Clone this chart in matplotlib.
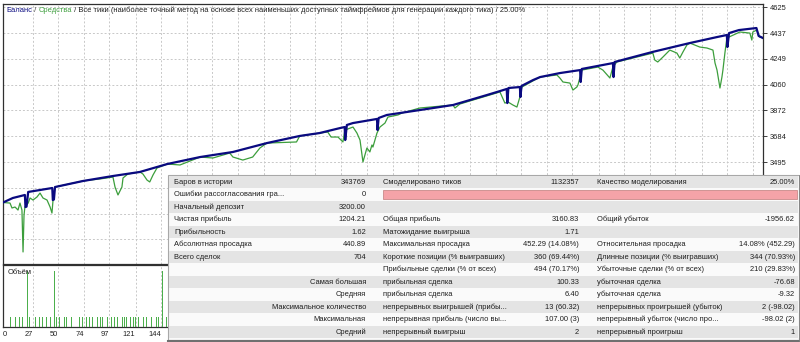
import matplotlib
matplotlib.use("Agg")
import matplotlib.pyplot as plt
from matplotlib.patches import Rectangle
from matplotlib.offsetbox import TextArea, HPacker, AnchoredOffsetbox

plt.rcParams['font.family'] = ['Liberation Sans', 'DejaVu Sans']

# Balance curve (trade number, deposit)
balance_x = [0, 9, 20, 20.5, 21.5, 23, 45, 45.5, 46.5, 47.5, 73, 100, 125, 140.5, 150,
             180, 210, 241, 271, 289, 308, 312, 312.5, 314, 319.5, 341.5, 342, 343, 350.5,
             380.5, 411, 442, 454, 460, 460.5, 461.5, 472, 472.5, 473.5, 484, 490.5, 508.5,
             527, 527.5, 528.5, 557, 557.5, 558.5, 593, 627, 652, 661, 661.5, 663, 672,
             688, 690, 694]
balance_y = [3200, 3233, 3255, 3167, 3170, 3277, 3306, 3218, 3222, 3313, 3357, 3393, 3423,
             3459, 3481, 3532, 3569, 3634, 3686, 3707, 3744, 3751, 3656, 3766, 3780, 3810,
             3729, 3817, 3839, 3875, 3912, 3985, 4014, 4029, 3926, 4036, 4043, 3970, 4051,
             4094, 4116, 4145, 4167, 4080, 4175, 4218, 4116, 4226, 4299, 4364, 4408, 4423,
             4335, 4437, 4459, 4474, 4416, 4401]

# Equity curve
equity_x = [0, 6.4, 8.2, 11, 13.7, 15.5, 17.3, 18.3, 19.2, 20, 23, 24.7, 27.4, 31, 33.8,
            36.5, 40.2, 43, 44.7, 45.7, 47.5, 73, 79.4, 88.6, 100.4, 102.3, 105, 108.6,
            109.6, 114, 125, 127.8, 131.5, 134, 137, 140.6, 150, 161.6, 180, 191.7, 207,
            210, 219, 228, 234.6, 241, 268, 271, 289.4, 296.5, 299.6, 305.9, 310.4, 312.2,
            319.6, 323.2, 326, 328.7, 332.3, 335, 336.9, 337.8, 341.5, 344.2, 348.8, 351.5,
            360.6, 364.3, 380.7, 410.9, 412.7, 417.2, 429.1, 453.8, 458.3, 461.1, 465.6,
            469.3, 472, 473.8, 490.3, 505.8, 508.5, 511.3, 517.7, 520.4, 524, 525, 528.6,
            543.2, 547.8, 554.2, 556.9, 560.5, 593.4, 595.2, 597.9, 602.6, 608.9, 615.4,
            618, 620.9, 624.5, 627.2, 636.3, 642.8, 648.3, 650.2, 652, 654.7, 656.5, 657.4,
            659.2, 661, 672.9, 682, 683.8, 684.7, 688.3, 691, 694]
equity_y = [3200, 3196, 3160, 3167, 3145, 3196, 3145, 2839, 3109, 3167, 3196, 3233, 3218,
            3240, 3269, 3233, 3218, 3167, 3123, 3218, 3313, 3357, 3364, 3372, 3386, 3313,
            3255, 3313, 3379, 3408, 3423, 3408, 3364, 3350, 3401, 3452, 3481, 3474, 3532,
            3525, 3561, 3532, 3510, 3532, 3598, 3634, 3642, 3686, 3707, 3715, 3678, 3678,
            3642, 3729, 3751, 3707, 3656, 3496, 3598, 3569, 3620, 3605, 3707, 3751, 3780,
            3824, 3839, 3853, 3890, 3912, 3890, 3919, 3948, 4007, 3926, 3934, 3912, 3897,
            3970, 4043, 4116, 4131, 4109, 4080, 4072, 4021, 4043, 4058, 4167, 4189, 4167,
            4109, 4189, 4226, 4291, 4240, 4226, 4262, 4313, 4291, 4255, 4299, 4350, 4364,
            4335, 4328, 4313, 4218, 4167, 4036, 4116, 4167, 4291, 4401, 4445, 4437, 4386,
            4445, 4459, 4408, 4401]

# Volume (lots) per trade, visible part
vol_x = [7, 11, 15, 18, 22, 24, 30, 33, 36, 40, 43, 47, 49, 52, 56, 58, 63, 70, 73, 76, 79,
         82, 86, 89, 91, 95, 99, 102, 105, 109, 111, 113, 116, 119, 121, 124, 128, 131, 136,
         140, 142, 146, 149]
vol_lots = [0.1, 0.1, 0.1, 0.1, 0.55, 0.1, 0.1, 0.1, 0.1, 0.1, 0.1, 0.55, 0.1, 0.1, 0.1, 0.1,
            0.1, 0.1, 0.1, 0.1, 0.1, 0.1, 0.1, 0.1, 0.1, 0.1, 0.1, 0.1, 0.1, 0.1, 0.1, 0.1,
            0.1, 0.1, 0.1, 0.1, 0.1, 0.1, 0.1, 0.1, 0.1, 0.55, 0.1]

y_ticks = [4625, 4437, 4249, 4060, 3872, 3684, 3495, 3307, 3119, 2930]
y_labels_shown = ['4625', '4437', '4249', '4060', '3872', '3684', '3495']  # rest under report
x_ticks = [0, 27, 50, 74, 97, 121, 144, 168, 191, 215, 238, 262, 285, 309, 332, 356, 379,
           403, 426, 450, 473, 497, 520, 544, 567, 591, 614, 638, 661, 685]
x_labels_shown = ['0', '27', '50', '74', '97', '121', '144']  # rest is under the report

# Report table
labels1 = ['Баров в истории', 'Ошибки рассогласования гра...', 'Начальный депозит',
           'Чистая прибыль', 'Прибыльность', 'Абсолютная просадка', 'Всего сделок', '',
           'Самая большая', 'Средняя', 'Максимальное количество', 'Максимальная', 'Средний']
values1 = ['343769', '0', '3200.00', '1204.21', '1.62', '440.89', '704', '', '', '', '', '', '']
labels2 = ['Смоделировано тиков', '', '', 'Общая прибыль', 'Матожидание выигрыша',
           'Максимальная просадка', 'Короткие позиции (% выигравших)',
           'Прибыльные сделки (% от всех)', 'прибыльная сделка', 'прибыльная сделка',
           'непрерывных выигрышей (прибы...', 'непрерывная прибыль (число вы...',
           'непрерывный выигрыш']
values2 = ['1132357', '', '', '3160.83', '1.71', '452.29 (14.08%)', '360 (69.44%)',
           '494 (70.17%)', '100.33', '6.40', '13 (60.32)', '107.00 (3)', '2']
labels3 = ['Качество моделирования', '', '', 'Общий убыток', '', 'Относительная просадка',
           'Длинные позиции (% выигравших)', 'Убыточные сделки (% от всех)',
           'убыточная сделка', 'убыточная сделка', 'непрерывных проигрышей (убыток)',
           'непрерывный убыток (число про...', 'непрерывный проигрыш']
values3 = ['25.00%', '', '', '-1956.62', '', '14.08% (452.29)', '344 (70.93%)',
           '210 (29.83%)', '-76.68', '-9.32', '2 (-98.02)', '-98.02 (2)', '1']

W, H = 800, 342
BAL_C = '#0a0a80'
EQ_C = '#3c9e3c'
GRID_C = '#c8c8c8'
FRAME_C = '#303030'
FS = 5.4

fig = plt.figure(figsize=(W / 100, H / 100), dpi=100)

# main chart
ax = fig.add_axes([3 / W, 1 - 264 / H, 760 / W, 260.5 / H])
ax.plot(equity_x, equity_y, color=EQ_C, lw=0.9, zorder=3)
ax.plot(balance_x, balance_y, color=BAL_C, lw=1.6, zorder=4)
ax.set_xlim(0, 694)
ax.set_ylim(2751, 4653)
ax.set_xticks(x_ticks)
ax.set_yticks(y_ticks)
ax.set_yticklabels(y_labels_shown + [''] * (len(y_ticks) - len(y_labels_shown)))
ax.yaxis.tick_right()
ax.tick_params(axis='x', length=0, labelbottom=False)
ax.tick_params(axis='y', length=3, pad=2, labelsize=FS, colors='#202020', width=0.6)
ax.grid(True, color=GRID_C, linestyle=(0, (2, 2)), linewidth=0.7)
for s in ax.spines.values():
    s.set_color(FRAME_C)
    s.set_linewidth(0.9)

tfs = 5.4
title = HPacker(children=[
    TextArea('Баланс', textprops=dict(color=BAL_C, fontsize=tfs)),
    TextArea(' / ', textprops=dict(color='#404040', fontsize=tfs)),
    TextArea('Средства', textprops=dict(color=EQ_C, fontsize=tfs)),
    TextArea(' / Все тики (наиболее точный метод на основе всех наименьших доступных '
             'таймфреймов для генерации каждого тика) / 25.00%',
             textprops=dict(color='#202020', fontsize=tfs)),
], align='baseline', pad=0, sep=0)
ax.add_artist(AnchoredOffsetbox(loc='center left', child=title, pad=0, borderpad=0,
                                frameon=False, bbox_to_anchor=(6 / W, 1 - 10 / H),
                                bbox_transform=fig.transFigure))

# volume panel
ax2 = fig.add_axes([3 / W, 1 - 327 / H, 760 / W, 62 / H])
ax2.bar(vol_x, vol_lots, width=0.9, color='#4caf4c', zorder=3)
ax2.set_xlim(0, 694)
ax2.set_ylim(0, 0.61)
ax2.set_yticks([])
ax2.set_xticks(x_ticks)
ax2.set_xticklabels(x_labels_shown + [''] * (len(x_ticks) - len(x_labels_shown)))
for i, lab in enumerate(ax2.get_xticklabels()):
    lab.set_horizontalalignment('left' if i == 0 else 'right')
ax2.tick_params(axis='x', length=0, pad=3, labelsize=FS, colors='#202020')
ax2.grid(True, axis='x', color=GRID_C, linestyle=(0, (2, 2)), linewidth=0.7)
for s in ax2.spines.values():
    s.set_color(FRAME_C)
    s.set_linewidth(0.9)
ax2.text(0.006, 0.88, 'Объём', transform=ax2.transAxes, fontsize=FS, color='#202020',
         va='center', ha='left')

# report table overlay, in pixel layout
tb = fig.add_axes([0, 0, 1, 1], zorder=10)
tb.set_xlim(0, W)
tb.set_ylim(H, 0)
tb.axis('off')
tb.patch.set_alpha(0)

top, rh = 176, 12.5
x0, x1 = 168, 799
tb.add_patch(Rectangle((x0, top - 1), x1 - x0, rh * 13 + 2.5, facecolor='#fafafa',
                       edgecolor='#a8a8a8', lw=0.8))
for i in range(13):
    y = top + i * rh
    if i % 2 == 0:
        tb.add_patch(Rectangle((x0 + 1, y), x1 - x0 - 2, rh - 1, facecolor='#e4e4e4',
                               edgecolor='none'))
    yc = y + rh / 2
    kw = dict(fontsize=FS, color='#1e1e1e', va='center')
    if i >= 8:
        tb.text(366, yc, labels1[i], ha='right', **kw)
    else:
        tb.text(174, yc, labels1[i], ha='left', **kw)
    tb.text(366, yc, values1[i], ha='right', **kw)
    tb.text(383, yc, labels2[i], ha='left', **kw)
    tb.text(579, yc, values2[i], ha='right', **kw)
    tb.text(597, yc, labels3[i], ha='left', **kw)
    tb.text(795, yc, values3[i], ha='right', **kw)
    if i == 1:
        tb.add_patch(Rectangle((383, y + 1.5), 414, rh - 3.5, facecolor='#f5a3a8',
                               edgecolor='#c98a8a', lw=0.6))
# shadow edges
tb.plot([x0, x1 + 1], [top + rh * 13 + 2, top + rh * 13 + 2], color='#707070', lw=1.5)
tb.plot([x1 + 0.5, x1 + 0.5], [top, top + rh * 13 + 2], color='#808080', lw=1.2)

fig.savefig('out.png', dpi=100)
